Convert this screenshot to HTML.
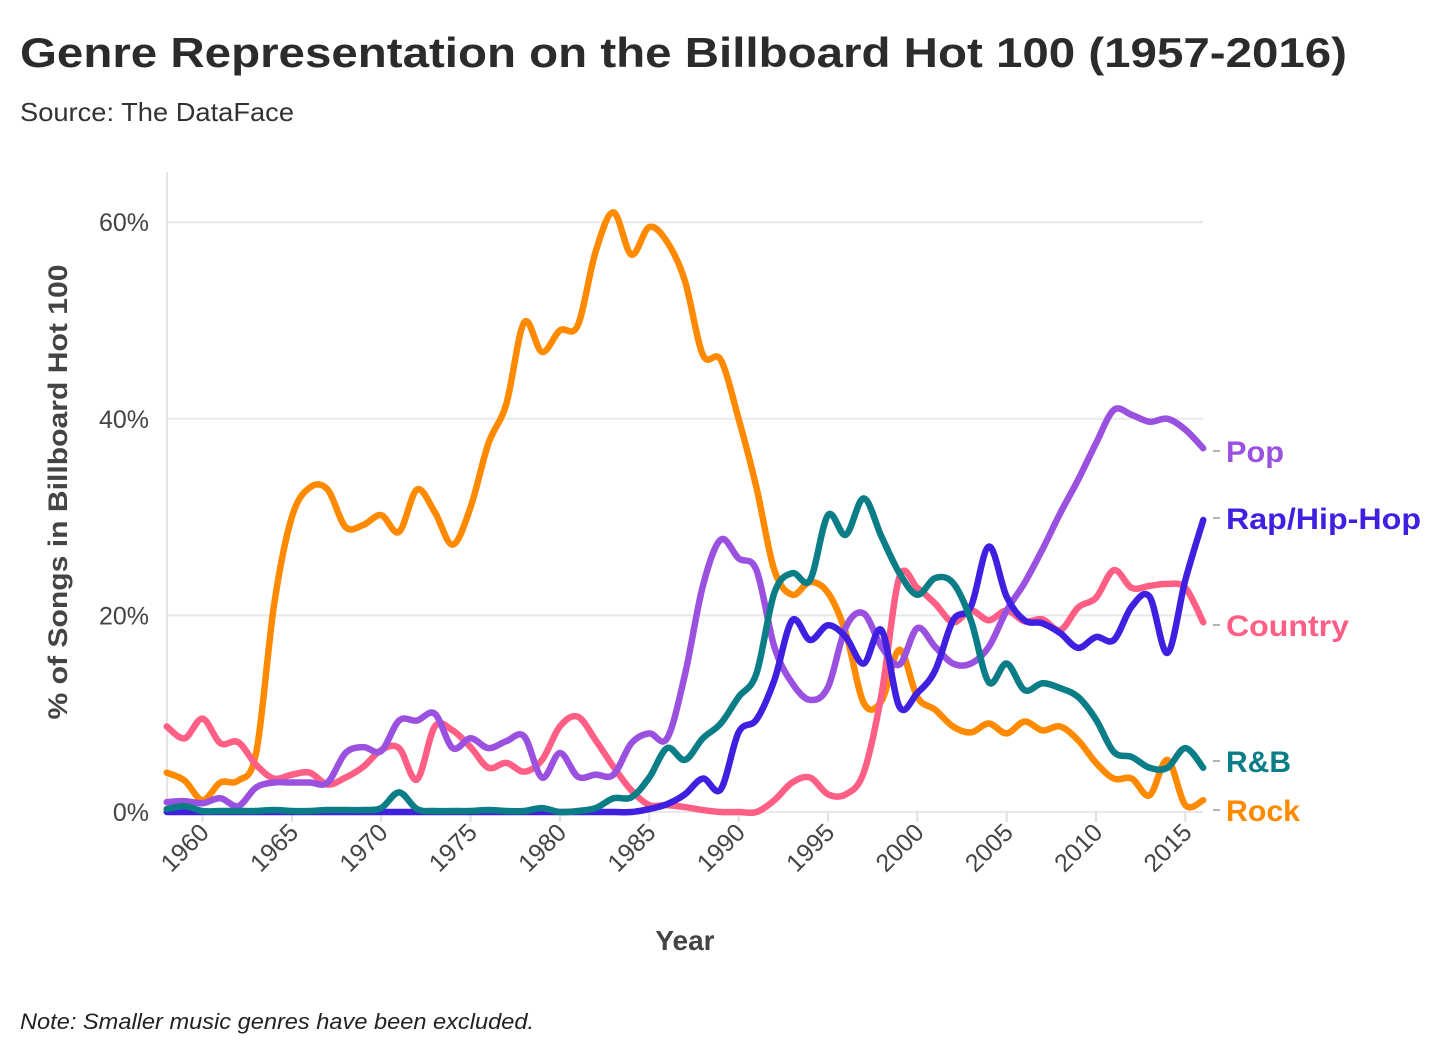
<!DOCTYPE html>
<html><head><meta charset="utf-8"><style>
html,body{margin:0;padding:0;background:#fff;}
svg{display:block;font-family:"Liberation Sans",sans-serif;}
</style></head><body>
<svg id="chart" width="1456" height="1054" viewBox="0 0 1456 1054">
<text x="20" y="67" font-size="42" font-weight="bold" fill="#2b2b2b" textLength="1327" lengthAdjust="spacingAndGlyphs">Genre Representation on the Billboard Hot 100 (1957-2016)</text>
<text x="20" y="121" font-size="26" fill="#333" textLength="274" lengthAdjust="spacingAndGlyphs">Source: The DataFace</text>
<g id="grid"></g>
<g id="yticks"></g>
<g id="xticks"></g>
<g id="lines"></g>
<g id="labels"></g>
<text transform="translate(67,492) rotate(-90)" text-anchor="middle" font-size="27" font-weight="bold" fill="#444" textLength="455" lengthAdjust="spacingAndGlyphs">% of Songs in Billboard Hot 100</text>
<text x="685" y="950" text-anchor="middle" font-size="28" font-weight="bold" fill="#444">Year</text>
<text x="20" y="1029" font-size="22" font-style="italic" fill="#222" textLength="514" lengthAdjust="spacingAndGlyphs">Note: Smaller music genres have been excluded.</text>
</svg>
<script>
const years = [];
for (let y = 1958; y <= 2016; y++) years.push(y);
const rock = [4,3.2,1.2,3,3.2,6,21,30,33,32.8,29,29.2,30.2,28.5,32.8,30.5,27.2,31,37.5,41.5,49.8,46.8,49,49.5,57,61,56.7,59.5,58,54,46.5,46,40,33,24.6,22.1,23.4,22.3,18.2,11.1,11.3,16.5,11.7,10.4,8.7,8.1,9,8,9.2,8.3,8.7,7.3,5,3.4,3.4,1.7,5.3,0.7,1.2];
const country = [8.7,7.5,9.5,7,7.1,4.8,3.4,3.8,4,2.8,3.5,4.6,6.3,6.5,3.3,8.7,8.3,6.6,4.5,5,4.1,5.3,8.7,9.7,7.3,4.6,2.2,0.7,0.7,0.5,0.2,0,0,0,1.2,3,3.5,1.8,1.8,4,12,23.9,22.8,21.2,19.3,20.5,19.5,20.5,19.4,19.6,18.5,20.8,21.8,24.6,22.8,23,23.2,22.8,19.3];
const pop = [1,1.1,0.9,1.4,0.6,2.5,3,3,3,3,6,6.6,6.2,9.3,9.3,10,6.5,7.5,6.5,7.2,7.7,3.5,6,3.6,3.8,3.8,7,8,7.5,14,23,27.7,25.8,24.6,16.8,13.1,11.4,12.7,18.8,20.2,16.8,15,18.7,16.8,15.1,15.1,16.8,20.5,23.3,26.7,30.4,33.8,37.5,40.9,40.4,39.7,40,38.9,37];
const rap = [0,0,0,0,0,0,0,0,0,0,0,0,0,0,0,0,0,0,0,0,0,0,0,0,0,0,0,0.3,0.8,1.8,3.4,2.3,8.1,9.4,13.4,19.5,17.5,19,17.8,15.1,18.5,10.7,12.1,14.4,19.5,20.9,27,21.9,19.5,19.2,18.2,16.7,17.8,17.5,20.9,21.9,16.2,23.6,29.7];
const rnb = [0.3,0.6,0.1,0.1,0.1,0.1,0.2,0.1,0.1,0.2,0.2,0.2,0.4,2,0.3,0.1,0.1,0.1,0.2,0.1,0.1,0.4,0,0.1,0.4,1.4,1.5,3.5,6.5,5.3,7.5,9,11.7,14.1,22.3,24.3,23.6,30.2,28.2,31.9,28,24.3,22.1,23.8,23.3,19.5,13.2,15.1,12.4,13.1,12.6,11.7,9.4,6.1,5.6,4.5,4.5,6.5,4.5];
const seriesNames = ["Pop","Rap/Hip-Hop","Country","R&B","Rock"];
const yTicks = [0,20,40,60];
const yTickLabels = ["0%","20%","40%","60%"];
const xTicks = [1960,1965,1970,1975,1980,1985,1990,1995,2000,2005,2010,2015];

const NS = "http://www.w3.org/2000/svg";
const x = yr => 202.5 + (yr - 1960) * 17.87;
const y = v => 812 - v * 9.83;
function mk(tag, attrs, parent) {
  const e = document.createElementNS(NS, tag);
  for (const k in attrs) e.setAttribute(k, attrs[k]);
  parent.appendChild(e);
  return e;
}
const grid = document.getElementById('grid');
const yt = document.getElementById('yticks');
const xt = document.getElementById('xticks');
const ax = mk('line', {x1:167, x2:167, y1:172, y2:812, stroke:'#e6e6e6', 'stroke-width':2}, grid);


yTicks.forEach((t, i) => {
  const g = mk('line', {x1:167, x2:1203, y1:y(t), y2:y(t), stroke:'#e8e8e8', 'stroke-width':2}, grid);
  
  
  const tx = mk('text', {x:149, y:y(t) + 9, 'text-anchor':'end', 'font-size':25, fill:'#444'}, yt);
  tx.textContent = yTickLabels[i];
  
  
});
xTicks.forEach(t => {
  const l = mk('line', {x1:x(t), x2:x(t), y1:812, y2:822, stroke:'#e0e0e0', 'stroke-width':2}, xt);
  
  
  const tx = mk('text', {transform:'translate(' + (x(t) + 8) + ',834) rotate(-45)', 'text-anchor':'end', 'font-size':25, fill:'#444'}, xt);
  tx.textContent = t;
  
  
});
function pathFor(vals) {
  const p = vals.map((v, i) => [x(years[i]), y(v)]);
  let d = 'M' + p[0][0] + ',' + p[0][1];
  for (let i = 0; i < p.length - 1; i++) {
    const p0 = p[i - 1] || p[i], p1 = p[i], p2 = p[i + 1], p3 = p[i + 2] || p2;
    const c1x = p1[0] + (p2[0] - p0[0]) / 6, c1y = p1[1] + (p2[1] - p0[1]) / 6;
    const c2x = p2[0] - (p3[0] - p1[0]) / 6, c2y = p2[1] - (p3[1] - p1[1]) / 6;
    d += ' C' + c1x + ',' + c1y + ' ' + c2x + ',' + c2y + ' ' + p2[0] + ',' + p2[1];
  }
  return d;
}
const lines = document.getElementById('lines');
const series = [
  {name:'rock', vals:rock, color:'#ff8a00'},
  {name:'country', vals:country, color:'#ff5f85'},
  {name:'pop', vals:pop, color:'#9b51e0'},
  {name:'rap', vals:rap, color:'#3f1fe0'},
  {name:'rnb', vals:rnb, color:'#0a7d87'}
];
series.forEach(s => {
  const pth = mk('path', {d:pathFor(s.vals), fill:'none', stroke:s.color, 'stroke-width':6.5, 'stroke-linejoin':'round', 'stroke-linecap':'round'}, lines);
  
  
});
const labels = document.getElementById('labels');
const labelDefs = [
  {text:seriesNames[0], ly:451, color:'#9b51e0', w:58},
  {text:seriesNames[1], ly:518, color:'#3f1fe0', w:195},
  {text:seriesNames[2], ly:625, color:'#ff5f85', w:123},
  {text:seriesNames[3], ly:761, color:'#0a7d87', w:65},
  {text:seriesNames[4], ly:810, color:'#ff8a00', w:74}
];
labelDefs.forEach(L => {
  const d = mk('line', {x1:1213, x2:1220, y1:L.ly, y2:L.ly, stroke:'#999', 'stroke-width':1.5}, labels);
  
  
  const t = mk('text', {x:1226, y:L.ly + 11, 'font-size':30, 'font-weight':'bold', fill:L.color, textLength:L.w, lengthAdjust:'spacingAndGlyphs'}, labels);
  t.textContent = L.text;
  
  
});
</script>
</body></html>
